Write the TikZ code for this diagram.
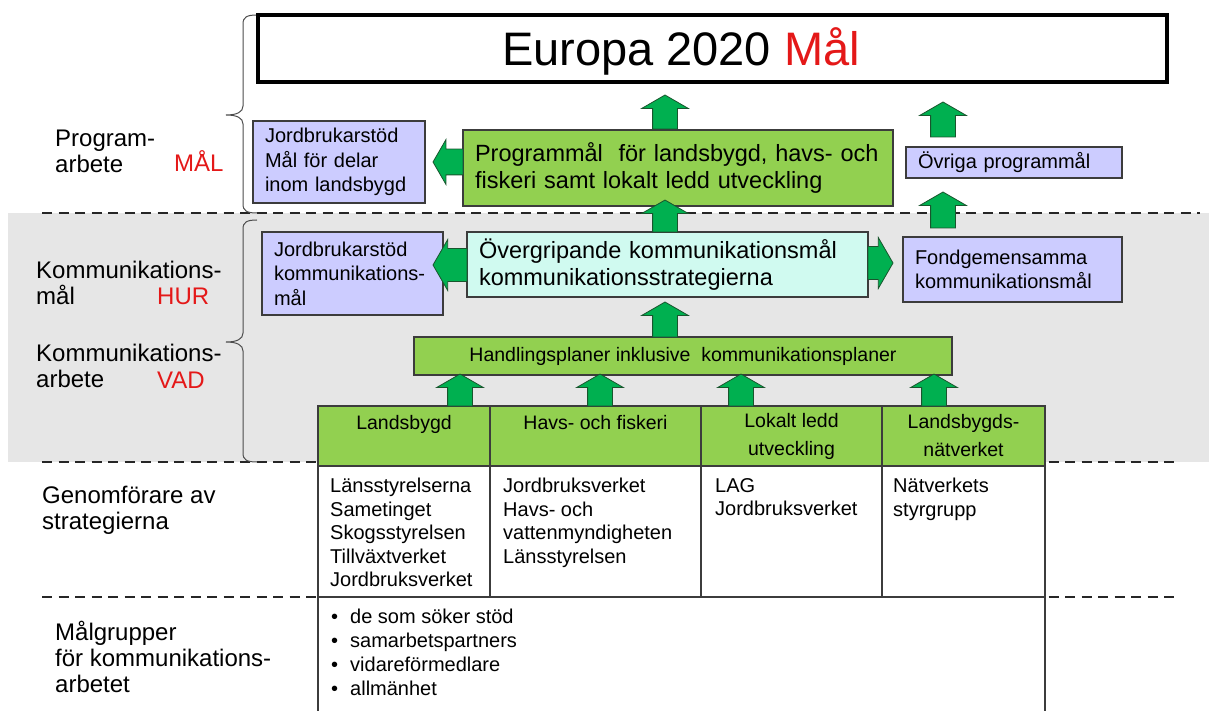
\documentclass[tikz,border=0pt]{standalone}
\usepackage{fontspec}
\setmainfont{Liberation Sans}
\usetikzlibrary{positioning,shapes.arrows}

\definecolor{boxgreen}{RGB}{146,208,80}
\definecolor{boxlilac}{RGB}{204,204,255}
\definecolor{boxmint}{RGB}{208,250,240}
\definecolor{arrgreen}{RGB}{0,176,80}
\definecolor{arrline}{RGB}{25,85,45}
\definecolor{bandgray}{RGB}{230,230,230}
\definecolor{labelred}{RGB}{228,24,24}
\definecolor{edgegray}{RGB}{60,60,60}

\newcommand{\fsTitle}{\fontsize{47}{52}\selectfont}
\newcommand{\fsBig}{\fontsize{23.5}{27}\selectfont}
\newcommand{\fsSmall}{\fontsize{20}{24.5}\selectfont}
\newcommand{\fsHead}{\fontsize{19.5}{28}\selectfont}
\newcommand{\fsBody}{\fontsize{20}{23.5}\selectfont}
\newcommand{\fsLabel}{\fontsize{24}{26}\selectfont}

\begin{document}
\begin{tikzpicture}[x=1pt,y=-1pt,
    box/.style={draw=edgegray,line width=1.3pt,anchor=north west,inner xsep=12pt,inner ysep=0pt,outer sep=0pt,align=left},
    lilac/.style={box,fill=boxlilac,font=\fsSmall},
    greenbox/.style={box,fill=boxgreen,font=\fsBig},
    mintbox/.style={box,fill=boxmint,font=\fsBig},
    hdrcell/.style={box,fill=boxgreen,align=center,inner xsep=0pt,minimum height=60pt,font=\fsHead},
    bodycell/.style={box,fill=white,inner xsep=0pt,minimum height=131pt},
    celltext/.style={inner sep=0pt,align=left,font=\fsBody},
    sidelabel/.style={anchor=west,inner sep=0pt,align=left,font=\fsLabel},
    redlabel/.style={sidelabel,text=labelred},
    sepline/.style={draw=black!85,line width=2.2pt,dash pattern=on 10pt off 6.5pt},
    bracket/.style={draw=black!70,line width=1pt},
    blockarr/.style={single arrow,draw=arrline,fill=arrgreen,line width=0.8pt,outer sep=0pt,
        single arrow head indent=0pt,single arrow tip angle=120,anchor=tail},
    uparr/.style={blockarr,shape border rotate=90,inner sep=12pt,single arrow head extend=11pt,minimum height=#1},
    leftarr/.style={blockarr,shape border rotate=180,inner xsep=0pt,inner ysep=16pt,single arrow head extend=9pt,minimum height=#1},
    rightarr/.style={blockarr,shape border rotate=0,inner xsep=0pt,inner ysep=16pt,single arrow head extend=9pt,minimum height=#1}
  ]
  \useasboundingbox (0,0) rectangle (1209,711);
  \fill[bandgray] (8,213) rectangle (1209,462);
  \draw[sepline] (42,213) -- (1200,213);
  \draw[sepline] (42,462) -- (1177,462);
  \draw[sepline] (42,597) -- (1177,597);

  \draw[bracket] (257,15) .. controls (247,15) and (243,17) .. (243,24) -- (243,106)
    .. controls (243,112) and (237,115) .. (226,115) .. controls (237,115) and (243,118) .. (243,124)
    -- (243,204) .. controls (243,211) and (247,213) .. (257,213);
  \draw[bracket] (257,220) .. controls (247,220) and (243,222) .. (243,229) -- (243,333)
    .. controls (243,339) and (237,342) .. (226,342) .. controls (237,342) and (243,345) .. (243,351)
    -- (243,453) .. controls (243,460) and (247,462) .. (257,462);

  \node[box,draw=black,line width=3.5pt,fill=white,minimum width=909pt,minimum height=67pt] (europa) at (258,15) {};
  \node[anchor=base,inner sep=0pt,font=\fsTitle] (europatext) at (681,66) {Europa 2020 \textcolor{labelred}{Mål}};

  \node[lilac,minimum height=82pt,text width=148pt] (jbmal) at (253,121) {Jordbrukarstöd\\Mål för delar\\inom landsbygd};
  \node[greenbox,minimum height=76pt,text width=406pt] (progmal) at (463,130) {Programmål~ för landsbygd, havs- och\\fiskeri samt lokalt ledd utveckling};
  \node[lilac,minimum height=31pt,text width=192pt] (ovriga) at (906,147) {Övriga programmål};
  \node[lilac,minimum height=83pt,text width=157pt] (jbkom) at (262,232) {Jordbrukarstöd\\kommunikations-\\mål};
  \node[mintbox,minimum height=65pt,text width=377pt] (overgr) at (467,232) {Övergripande kommunikationsmål\\kommunikationsstrategierna};
  \node[lilac,minimum height=65pt,text width=195pt] (fond) at (903,237) {Fondgemensamma\\kommunikationsmål};
  \node[greenbox,align=center,font=\fsHead,minimum width=538pt,minimum height=38pt] (handl) at (414,337) {Handlingsplaner inklusive~ kommunikationsplaner};

  \node[hdrcell,minimum width=172pt] (hland) at (318,406) {Landsbygd\\\mbox{}};
  \node[hdrcell,minimum width=211pt] (hhav) at (490,406) {Havs- och fiskeri\\\mbox{}};
  \node[hdrcell,minimum width=181pt] (hlag) at (701,406) {Lokalt ledd\\utveckling};
  \node[hdrcell,minimum width=163pt] (hnat) at (882,406) {Landsbygds-\\nätverket};
  \node[bodycell,minimum width=172pt] (bland) at (318,466) {};
  \node[bodycell,minimum width=211pt] (bhav) at (490,466) {};
  \node[bodycell,minimum width=181pt] (blag) at (701,466) {};
  \node[bodycell,minimum width=163pt] (bnat) at (882,466) {};
  \node[bodycell,minimum width=727pt,minimum height=125pt] (mrow) at (318,597) {};

  \node[celltext,below right=12pt and 12pt of bland.north west] (tland) {Länsstyrelserna\\Sametinget\\Skogsstyrelsen\\Tillväxtverket\\Jordbruksverket};
  \node[celltext,below right=12pt and 13pt of bhav.north west] (thav) {Jordbruksverket\\Havs- och\\vattenmyndigheten\\Länsstyrelsen};
  \node[celltext,below right=12pt and 14pt of blag.north west] (tlag) {LAG\\Jordbruksverket};
  \node[celltext,below right=12pt and 11pt of bnat.north west] (tnat) {Nätverkets\\styrgrupp};
  \node[celltext,font=\fontsize{20}{24}\selectfont,below right=12pt and 13pt of mrow.north west] (tmal)
    {\textbullet\hspace{12pt}de som söker stöd\\\textbullet\hspace{12pt}samarbetspartners\\\textbullet\hspace{12pt}vidareförmedlare\\\textbullet\hspace{12pt}allmänhet};

  \node[uparr=34pt] (uptop) at (665,129) {};
  \node[uparr=30pt] (upprog) at (665,232) {};
  \node[uparr=35pt] (upover) at (665,337) {};
  \node[uparr=26pt] (upland) at (460,406) {};
  \node[uparr=26pt] (uphav) at (600,406) {};
  \node[uparr=26pt] (uplag) at (741,406) {};
  \node[uparr=26pt] (upnat) at (934,406) {};
  \node[uparr=35pt] (upovriga) at (943,137) {};
  \node[uparr=36pt] (upfond) at (943,228) {};
  \node[leftarr=30pt,inner ysep=12.5pt,single arrow head extend=9.5pt] (leftprog) at (463,162) {};
  \node[leftarr=34pt] (leftover) at (467,265) {};
  \node[rightarr=25pt] (rightover) at (868,263) {};

  \node[sidelabel] (lprog) at (55,151) {Program-\\arbete};
  \node[redlabel] (lmal) at (174,161) {MÅL};
  \node[sidelabel] (lkmal) at (36,283) {Kommunikations-\\mål};
  \node[redlabel] (lhur) at (157,296) {HUR};
  \node[sidelabel] (lkarb) at (36,366) {Kommunikations-\\arbete};
  \node[redlabel] (lvad) at (157,380) {VAD};
  \node[sidelabel] (lgen) at (42,510) {Genomförare av\\strategierna};
  \node[sidelabel] (lmalgr) at (55,657) {Målgrupper\\för kommunikations-\\arbetet};
\end{tikzpicture}
\end{document}
